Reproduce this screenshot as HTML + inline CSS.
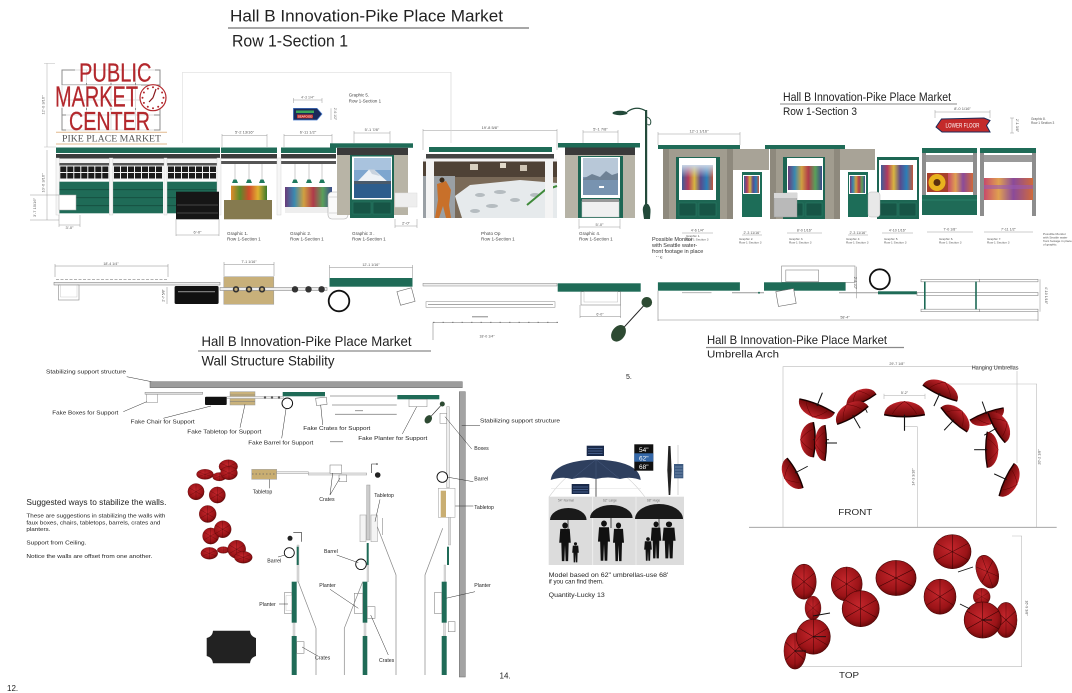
<!DOCTYPE html>
<html><head><meta charset="utf-8"><style>
html,body{margin:0;padding:0;background:#fff;}
svg{display:block;}
text{font-family:"Liberation Sans",sans-serif;fill:#222;}
</style></head><body>
<svg width="1072" height="693" viewBox="0 0 1072 693" xmlns="http://www.w3.org/2000/svg">
<defs>
 <radialGradient id="ur" cx="45%" cy="40%" r="65%">
  <stop offset="0" stop-color="#c4262c"/>
  <stop offset="0.7" stop-color="#9a1317"/>
  <stop offset="1" stop-color="#5a0606"/>
 </radialGradient>
 <linearGradient id="ud" x1="0" y1="0" x2="0" y2="1">
  <stop offset="0" stop-color="#c0232a"/>
  <stop offset="1" stop-color="#6a0808"/>
 </linearGradient>
 <linearGradient id="crowd" x1="0" y1="0" x2="1" y2="0">
  <stop offset="0" stop-color="#3d5f9a"/><stop offset="0.2" stop-color="#b23a5e"/>
  <stop offset="0.4" stop-color="#d9b640"/><stop offset="0.6" stop-color="#5a4a8c"/>
  <stop offset="0.8" stop-color="#2b7fb8"/><stop offset="1" stop-color="#c2553a"/>
 </linearGradient>
 <linearGradient id="skyo" x1="0" y1="0" x2="0" y2="1">
  <stop offset="0" stop-color="#c9d6e6"/><stop offset="0.5" stop-color="#c9d6e6" stop-opacity="0"/>
 </linearGradient>
 <linearGradient id="prod" x1="0" y1="0" x2="1" y2="0">
  <stop offset="0" stop-color="#e08a2a"/><stop offset="0.25" stop-color="#5a8a2a"/>
  <stop offset="0.5" stop-color="#d04a2a"/><stop offset="0.75" stop-color="#e0b030"/>
  <stop offset="1" stop-color="#3a7a2a"/>
 </linearGradient>
 <linearGradient id="crowd2" x1="0" y1="0" x2="1" y2="0">
  <stop offset="0" stop-color="#6a3a7a"/><stop offset="0.2" stop-color="#3a8ab0"/>
  <stop offset="0.4" stop-color="#d0a040"/><stop offset="0.6" stop-color="#b03a4a"/>
  <stop offset="0.8" stop-color="#5aa05a"/><stop offset="1" stop-color="#3a4a8a"/>
 </linearGradient>
 <linearGradient id="b7" x1="0" y1="0" x2="1" y2="0">
  <stop offset="0" stop-color="#c84a6a"/><stop offset="0.3" stop-color="#e0a050"/>
  <stop offset="0.6" stop-color="#8a4a9a"/><stop offset="1" stop-color="#d06a3a"/>
 </linearGradient>
 <g id="win">
  <rect width="50" height="14" fill="#f2f2f2"/>
  <path d="M1,1h6v5.5h-6zM8,1h6v5.5h-6zM15,1h6v5.5h-6zM22,1h6v5.5h-6zM29,1h6v5.5h-6zM36,1h6v5.5h-6zM43,1h6v5.5h-6zM1,7.5h6v5.5h-6zM8,7.5h6v5.5h-6zM15,7.5h6v5.5h-6zM22,7.5h6v5.5h-6zM29,7.5h6v5.5h-6zM36,7.5h6v5.5h-6zM43,7.5h6v5.5h-6z" fill="#1c1c1c"/>
 </g>
 <g id="gp">
  <rect width="50" height="31.6" fill="#1f6b57"/>
  <path d="M0,8H50M0,16H50M0,24H50" stroke="#154c3e" stroke-width="0.8"/>
 </g>
 <g id="fu">
  <path d="M-20,0 A20,10 0 0 1 20,0 Q0,3 -20,0 Z" fill="url(#ud)"/>
  <path d="M-20,0 Q0,3 20,0" stroke="#1a0000" stroke-width="1.2" fill="none"/>
  <path d="M0,-10 Q-8,-6 -12,-0.5 M0,-10 Q8,-6 12,-0.5" stroke="#5a0000" stroke-width="0.4" fill="none"/>
  <line x1="0" y1="0" x2="0" y2="12" stroke="#111" stroke-width="1.1"/>
 </g>
 <g id="tu">
  <circle r="17" fill="url(#ur)" stroke="#4a0505" stroke-width="0.6"/>
  <path d="M0,0L0,-17M0,0L14.7,-8.5M0,0L14.7,8.5M0,0L0,17M0,0L-14.7,8.5M0,0L-14.7,-8.5" stroke="#3a0303" stroke-width="0.5"/>
 </g>
 <g id="person">
  <circle cx="0" cy="-17" r="2.6" fill="#111"/>
  <path d="M-4.5,-14 H4.5 L5.5,-2 H3.5 L3,14 H0.6 L0,0 L-0.6,14 H-3 L-3.5,-2 H-5.5 Z" fill="#111"/>
 </g>
</defs>

<!-- ============ HEADER ============ -->
<text x="230" y="21.7" font-size="16.5" textLength="273" lengthAdjust="spacingAndGlyphs">Hall B Innovation-Pike Place Market</text>
<line x1="228" y1="28" x2="529" y2="28" stroke="#8a8a8a" stroke-width="1.5"/>
<text x="232" y="46.5" font-size="17" textLength="116" lengthAdjust="spacingAndGlyphs">Row 1-Section 1</text>

<!-- Logo -->
<g stroke="#8c8c8c" stroke-width="1" fill="none">
 <rect x="62" y="70" width="98" height="60"/>
 <path d="M86.5,70V130M111,70V130M135.5,70V130M62,85H160M62,100H160M62,115H160"/>
</g>
<rect x="75" y="62" width="80" height="21" fill="#fff" opacity="0.7"/>
<rect x="53" y="85" width="88" height="23" fill="#fff" opacity="0.7"/>
<rect x="66" y="110" width="88" height="21" fill="#fff" opacity="0.7"/>
<text x="79" y="81.7" font-size="25.7" textLength="72.5" lengthAdjust="spacingAndGlyphs" style="fill:#b3282d" stroke="#b3282d" stroke-width="0.25">PUBLIC</text>
<text x="55" y="106.7" font-size="29" textLength="83" lengthAdjust="spacingAndGlyphs" style="fill:#b3282d" stroke="#b3282d" stroke-width="0.25">MARKET</text>
<text x="69" y="130" font-size="25.5" textLength="81" lengthAdjust="spacingAndGlyphs" style="fill:#b3282d" stroke="#b3282d" stroke-width="0.25">CENTER</text>
<circle cx="153" cy="97.7" r="13" fill="#fff" stroke="#b3282d" stroke-width="1.2"/>
<g fill="#b3282d">
 <circle cx="153" cy="87.2" r="1"/><circle cx="158.2" cy="88.6" r="1"/><circle cx="162.1" cy="92.5" r="1"/><circle cx="163.5" cy="97.7" r="1"/><circle cx="162.1" cy="102.9" r="1"/><circle cx="158.2" cy="106.8" r="1"/><circle cx="153" cy="108.2" r="1"/><circle cx="147.8" cy="106.8" r="1"/><circle cx="143.9" cy="102.9" r="1"/><circle cx="142.5" cy="97.7" r="1"/><circle cx="143.9" cy="92.5" r="1"/><circle cx="147.8" cy="88.6" r="1"/>
</g>
<path d="M153,97.7L149,102M153,97.7L156,89" stroke="#8a1a1e" stroke-width="1.2"/>
<line x1="56" y1="132.3" x2="167" y2="132.3" stroke="#e2b98e" stroke-width="1"/>
<line x1="56" y1="144" x2="167" y2="144" stroke="#e2b98e" stroke-width="1"/>
<text x="62" y="141.7" font-size="9.5" textLength="99" lengthAdjust="spacingAndGlyphs" style="font-family:'Liberation Serif',serif;fill:#555">PIKE PLACE MARKET</text>
<line x1="47" y1="63.3" x2="47" y2="147" stroke="#bbb" stroke-width="0.6"/>
<path d="M44,63.3H55M44,147H56" stroke="#bbb" stroke-width="0.5"/>
<text transform="translate(44.5,105) rotate(-90)" font-size="4" text-anchor="middle" style="fill:#666">12'-0 3/16"</text>
<path d="M182.5,143V72.3H451V143" stroke="#ddd" stroke-width="0.6" fill="none"/>

<!-- Seafood sign -->
<path d="M293.4,100H322M293.4,98V103M322,98V103" stroke="#999" stroke-width="0.5"/>
<text x="307.7" y="98.5" font-size="3.6" text-anchor="middle" style="fill:#666">4'-3 1/4"</text>
<path d="M293.4,108.3H317L322,114L317,120H293.4Z" fill="#1b2a5a" stroke="#4a7fd0" stroke-width="0.7"/>
<rect x="296" y="110.5" width="18" height="2.5" fill="#3aa55a"/>
<rect x="297" y="114.5" width="16" height="3.8" fill="#c0302a"/>
<text x="305" y="117.6" font-size="3" text-anchor="middle" style="fill:#fff">SEAFOOD</text>
<line x1="331" y1="108.3" x2="331" y2="120" stroke="#999" stroke-width="0.5"/>
<text transform="translate(334,114) rotate(90)" font-size="3.4" text-anchor="middle" style="fill:#666">2'-6 1/2"</text>
<text x="348.8" y="96.5" font-size="4.4" style="fill:#444">Graphic 5.</text>
<text x="348.8" y="102.5" font-size="4.4" style="fill:#444">Row 1-Section 1</text>

<!-- ============ STOREFRONT SECTION 1 ============ -->
<path d="M222,135.7H267M222,134V147M267,134V147M284,135.7H332M284,134V147M332,134V147M354,133H390M354,131V143M390,131V143" stroke="#999" stroke-width="0.5" fill="none"/>
<text x="244.5" y="133.6" text-anchor="middle" font-size="4" style="fill:#555">5'-2 13/16"</text>
<text x="308" y="133.6" text-anchor="middle" font-size="4" style="fill:#555">6'-11 1/2"</text>
<text x="372" y="131" text-anchor="middle" font-size="4" style="fill:#555">5'-1 7/8"</text>
<rect x="56" y="147.5" width="164" height="5.5" fill="#1f6b57"/>
<rect x="221" y="147.5" width="56" height="5.5" fill="#1f6b57"/>
<rect x="281" y="147.5" width="55" height="5.5" fill="#1f6b57"/>
<rect x="56" y="154" width="164" height="4.5" fill="#3c3c3c"/>
<rect x="221" y="154" width="56" height="4.5" fill="#3c3c3c"/>
<rect x="281" y="154" width="55" height="4.5" fill="#3c3c3c"/>
<rect x="56" y="158.5" width="164" height="4.5" fill="#f4f4f4"/>
<rect x="56" y="163" width="164" height="2.5" fill="#555"/>
<rect x="221" y="161" width="56" height="3" fill="#555"/>
<rect x="281" y="161" width="55" height="3" fill="#555"/>
<use href="#win" x="59.3" y="165.5"/>
<use href="#win" x="113" y="165.5"/>
<use href="#win" x="167" y="165.5"/>
<use href="#gp" x="59.3" y="181.7"/>
<use href="#gp" x="113" y="181.7"/>
<use href="#gp" x="167" y="181.7"/>
<g fill="#f6f6f6" stroke="#ccc" stroke-width="0.4">
 <rect x="56" y="158" width="3.3" height="57"/>
 <rect x="109.3" y="158" width="3.6" height="57"/>
 <rect x="164" y="158" width="3" height="57"/>
 <rect x="217" y="158" width="4" height="57"/>
 <rect x="277" y="158" width="4" height="57"/>
</g>
<rect x="59" y="195" width="17" height="15" fill="#fff" stroke="#aaa" stroke-width="0.5"/>
<rect x="176" y="191.7" width="43" height="27.6" fill="#161616"/>
<path d="M177,205H218M177,213H218" stroke="#555" stroke-width="0.8"/>
<!-- produce -->
<g stroke="#555" stroke-width="0.3"><path d="M235,164V180M249,164V180M262,164V180M295,164V180M309,164V180M322,164V180"/></g>
<g fill="#1f7a5e">
 <path d="M232,183L233.5,179.5H236.5L238,183Z"/><path d="M246,183L247.5,179.5H250.5L252,183Z"/><path d="M259,183L260.5,179.5H263.5L265,183Z"/>
 <path d="M292,183L293.5,179.5H296.5L298,183Z"/><path d="M306,183L307.5,179.5H310.5L312,183Z"/><path d="M319,183L320.5,179.5H323.5L325,183Z"/>
</g>
<rect x="231" y="185.7" width="36" height="14.3" fill="url(#prod)"/>
<rect x="224" y="200" width="48" height="19.3" fill="#857a4f"/>
<rect x="285" y="187" width="47" height="20" fill="url(#crowd2)"/>
<rect x="285" y="207" width="47" height="6" fill="#eee"/>
<rect x="328" y="192" width="20" height="27" rx="4" fill="#fafafa" stroke="#aaa" stroke-width="0.6"/>
<path d="M329,197H347M329,213H347" stroke="#bbb" stroke-width="0.5"/>
<!-- Graphic 3 store -->
<rect x="330" y="143.3" width="83" height="4.5" fill="#1f6b57"/>
<rect x="337" y="147.8" width="71" height="7.2" fill="#3a3a3a"/>
<rect x="337" y="155" width="71" height="60" fill="#b8b4a6"/>
<rect x="350" y="155" width="44" height="63" fill="#1d6653"/>
<rect x="352" y="156.5" width="40" height="43" fill="#fff"/>
<rect x="354" y="158" width="37" height="40" fill="#7ea6cf"/>
<rect x="354" y="158" width="37" height="12" fill="#a9c3de"/>
<path d="M356,183L369,169.5H374L389,183Z" fill="#eef2f6"/>
<path d="M369,169.5L374,169.5L380,176L372,174Z" fill="#c9d3de"/>
<rect x="354" y="181" width="37" height="3" fill="#4a5a6a"/>
<rect x="354" y="184" width="37" height="14" fill="#2d5d8c"/>
<rect x="353" y="202" width="18" height="12" fill="#175546" stroke="#2a7a64" stroke-width="0.6"/>
<rect x="373" y="202" width="18" height="12" fill="#175546" stroke="#2a7a64" stroke-width="0.6"/>
<rect x="395" y="193" width="22" height="14" fill="#eee" stroke="#ddd" stroke-width="0.5"/>
<!-- dims below -->
<g stroke="#999" stroke-width="0.5" fill="none">
 <path d="M59,225H80M59,215V227M80,215V227M176,235H219M176,219V236M219,219V236M395,226H417M395,219V228M417,219V228"/>
 <path d="M47,150V220M30,195H59M30,220H59"/>
</g>
<text x="69.5" y="229" text-anchor="middle" font-size="4" style="fill:#555">3'-0"</text>
<text x="197.5" y="233.5" text-anchor="middle" font-size="4" style="fill:#555">6'-0"</text>
<text x="406" y="224.5" text-anchor="middle" font-size="4" style="fill:#555">2'-0"</text>
<text transform="translate(44.5,183) rotate(-90)" font-size="4" text-anchor="middle" style="fill:#666">10'-6 3/16"</text>
<text transform="translate(36,207.5) rotate(-90)" font-size="4" text-anchor="middle" style="fill:#666">3'-7 15/16"</text>
<text x="227" y="235" font-size="4.6" style="fill:#444">Graphic 1.</text><text x="227" y="240.5" font-size="4.6" style="fill:#444">Row 1-Section 1</text>
<text x="290" y="235" font-size="4.6" style="fill:#444">Graphic 2.</text><text x="290" y="240.5" font-size="4.6" style="fill:#444">Row 1-Section 1</text>
<text x="352" y="235" font-size="4.6" style="fill:#444">Graphic 3 .</text><text x="352" y="240.5" font-size="4.6" style="fill:#444">Row 1-Section 1</text>
<text x="481" y="235" font-size="4.6" style="fill:#444">Photo Op</text><text x="481" y="240.5" font-size="4.6" style="fill:#444">Row 1-Section 1</text>
<text x="579" y="235" font-size="4.6" style="fill:#444">Graphic 4.</text><text x="579" y="240.5" font-size="4.6" style="fill:#444">Row 1-Section 1</text>

<!-- Photo Op -->
<path d="M423,130.7H557M423,129V150M557,129V150" stroke="#999" stroke-width="0.5" fill="none"/>
<text x="490" y="129" text-anchor="middle" font-size="4" style="fill:#555">19'-8 5/8"</text>
<rect x="429" y="147" width="123" height="5" fill="#1f6b57"/>
<rect x="426" y="154" width="128" height="4.5" fill="#444"/>
<rect x="423" y="160" width="134" height="58" fill="#7a6a58"/>
<rect x="423" y="160" width="134" height="17" fill="#4f4236"/>
<rect x="470" y="164" width="8" height="6" fill="#d8d0c0"/><rect x="500" y="163" width="6" height="5" fill="#e0d8c8"/><rect x="520" y="165" width="7" height="6" fill="#cfc5b5"/>
<rect x="423" y="176" width="32" height="42" fill="#9aa0a5"/>
<path d="M455,196L470,185L520,180L557,183V218H462Z" fill="#e6eaec"/>
<g fill="#b5bcc0"><ellipse cx="480" cy="195" rx="5" ry="2"/><ellipse cx="500" cy="192" rx="6" ry="2"/><ellipse cx="515" cy="200" rx="5" ry="2"/><ellipse cx="492" cy="206" rx="6" ry="2"/><ellipse cx="535" cy="195" rx="5" ry="2"/><ellipse cx="475" cy="211" rx="5" ry="2"/></g>
<path d="M527,205L545,190L557,186" stroke="#3f8a3a" stroke-width="2" fill="none"/>
<path d="M437,184L446,181L451,190L449,205L451,218H446L443,206L439,218H435L438,200Z" fill="#c8702a"/>
<circle cx="442" cy="180" r="2.5" fill="#3a2a1a"/>
<rect x="423" y="158.5" width="134" height="3" fill="#f4f4f4"/>
<rect x="426" y="159" width="8" height="59" fill="#f4f4f4"/>
<rect x="545" y="159" width="8" height="59" fill="#f4f4f4"/>
<path d="M451,72V143" stroke="#ddd" stroke-width="0.6"/>

<!-- Graphic 4 booth -->
<path d="M583,132H618M583,130V143M618,130V143M579,227H620M579,219V229M620,219V229" stroke="#999" stroke-width="0.5" fill="none"/>
<text x="600.5" y="130.5" text-anchor="middle" font-size="4" style="fill:#555">5'-1 7/8"</text>
<text x="599.5" y="226" text-anchor="middle" font-size="4" style="fill:#555">5'-0"</text>
<rect x="558" y="143" width="82" height="4.5" fill="#1f6b57"/>
<rect x="565" y="147.5" width="70" height="7.5" fill="#3a3a3a"/>
<rect x="565" y="155" width="70" height="63" fill="#b6b3a6"/>
<rect x="578" y="156" width="45" height="62" fill="#1d6653"/>
<rect x="581" y="157" width="39" height="41" fill="#fff"/>
<rect x="583" y="158" width="35" height="37" fill="#7893b0"/>
<rect x="583" y="158" width="35" height="19" fill="#b8c8d8"/>
<path d="M583,179L592,174L600,177L606,171L612,175L618,173V180H583Z" fill="#6f8295"/>
<rect x="599" y="186" width="5" height="2" fill="#fff"/>
<rect x="582" y="201" width="37" height="16" fill="#f0f0f0" stroke="#ccc" stroke-width="0.5"/>
<rect x="582" y="199" width="37" height="3" fill="#999"/>
<!-- Lamp post -->
<g fill="#234a3a" stroke="#234a3a">
 <rect x="645" y="110" width="2.2" height="97" stroke="none"/>
 <path d="M646,111Q636,105 627,112" fill="none" stroke-width="1.2"/>
 <ellipse cx="620" cy="113" rx="7.5" ry="2.2" stroke="none"/>
 <path d="M647,117Q652,119 650.5,124Q649,126 647.5,124" fill="none" stroke-width="0.9"/>
 <path d="M644,219L643,212Q642,207 645,204H648Q651,207 650.5,212L650,219Z" stroke="none"/>
</g>

<!-- ============ SECTION 3 ============ -->
<text x="783" y="101" font-size="12.3" textLength="168" lengthAdjust="spacingAndGlyphs">Hall B Innovation-Pike Place Market</text>
<line x1="780" y1="104" x2="957" y2="104" stroke="#8a8a8a" stroke-width="1"/>
<text x="783" y="115" font-size="11" textLength="74" lengthAdjust="spacingAndGlyphs">Row 1-Section 3</text>
<path d="M935,112H990M935,110V118M990,110V118M1010,118H1014M1010,133H1014M1012,118V133" stroke="#999" stroke-width="0.5" fill="none"/>
<text x="962.5" y="110" text-anchor="middle" font-size="4" style="fill:#555">8'-0 1/16"</text>
<text transform="translate(1016,125.5) rotate(90)" font-size="3.6" text-anchor="middle" style="fill:#555">2'-1 3/8"</text>
<path d="M936,127L941.5,119L984,118L990,120.5L986.5,125.5L990,132H942Z" fill="#c42a2a" stroke="#1b2a5a" stroke-width="1"/>
<text x="962.5" y="127.6" text-anchor="middle" font-size="6" textLength="34" lengthAdjust="spacingAndGlyphs" style="fill:#fff">LOWER FLOOR</text>
<text x="1031" y="120" font-size="3.2" style="fill:#555">Graphic 8.</text>
<text x="1031" y="124" font-size="3.2" style="fill:#555">Row 1 Section 3</text>

<path d="M658,134H740M658,132V145M740,132V145" stroke="#999" stroke-width="0.5" fill="none"/>
<text x="699" y="132.5" text-anchor="middle" font-size="4" style="fill:#555">12'-1 1/16"</text>
<rect x="733" y="149" width="36" height="21" fill="#a8a397"/>
<rect x="840" y="149" width="35" height="21" fill="#a8a397"/>
<!-- booth 1 -->
<rect x="658" y="145" width="82" height="4" fill="#1f6b57"/>
<rect x="663" y="149" width="70" height="70" fill="#a19c8f"/>
<rect x="663" y="149" width="6" height="70" fill="#8e897d"/><rect x="727" y="149" width="6" height="70" fill="#8e897d"/>
<rect x="676" y="157" width="44" height="62" fill="#1d6653"/>
<rect x="679" y="158" width="37" height="42" fill="#fff"/>
<rect x="682" y="165" width="31" height="25" fill="url(#crowd)"/>
<rect x="682" y="165" width="31" height="25" fill="url(#skyo)"/>
<rect x="679" y="203" width="17" height="13" fill="#175546" stroke="#2a7a64" stroke-width="0.6"/>
<rect x="699" y="203" width="17" height="13" fill="#175546" stroke="#2a7a64" stroke-width="0.6"/>
<!-- door 2 -->
<rect x="742" y="172" width="20" height="45" fill="#1d6d58"/>
<rect x="743" y="175" width="17" height="19" fill="#fff"/>
<rect x="744" y="176" width="15" height="17" fill="url(#crowd)"/>
<!-- booth 3 -->
<rect x="765" y="145" width="80" height="4" fill="#1f6b57"/>
<rect x="770" y="149" width="70" height="70" fill="#a19c8f"/>
<rect x="770" y="149" width="6" height="70" fill="#8e897d"/><rect x="834" y="149" width="6" height="70" fill="#8e897d"/>
<rect x="783" y="157" width="42" height="62" fill="#1d6653"/>
<rect x="787" y="158" width="36" height="42" fill="#fff"/>
<rect x="788" y="166" width="34" height="24" fill="url(#crowd2)"/>
<rect x="787" y="203" width="16" height="13" fill="#175546" stroke="#2a7a64" stroke-width="0.6"/>
<rect x="806" y="203" width="16" height="13" fill="#175546" stroke="#2a7a64" stroke-width="0.6"/>
<rect x="774" y="193" width="23" height="24" fill="#b9b9b9" stroke="#999" stroke-width="0.4"/>
<rect x="774" y="193" width="23" height="5" fill="#d8d8d8"/>
<!-- door 4 -->
<rect x="848" y="172" width="20" height="45" fill="#1d6d58"/>
<rect x="849" y="175" width="17" height="19" fill="#fff"/>
<rect x="850" y="176" width="15" height="17" fill="url(#crowd2)"/>
<!-- booth 5 -->
<rect x="877" y="157" width="42" height="62" fill="#1d6653"/>
<rect x="879" y="160" width="38" height="40" fill="#fff"/>
<rect x="881" y="165" width="32" height="25" fill="url(#crowd)"/>
<rect x="880" y="203" width="17" height="13" fill="#175546" stroke="#2a7a64" stroke-width="0.6"/>
<rect x="899" y="203" width="17" height="13" fill="#175546" stroke="#2a7a64" stroke-width="0.6"/>
<rect x="868" y="192" width="12" height="25" rx="3" fill="#e8e8e8" stroke="#aaa" stroke-width="0.4"/>
<!-- booth 6 -->
<rect x="922" y="148" width="55" height="5" fill="#1f6b57"/>
<rect x="922" y="155" width="55" height="7" fill="#9a9a9a"/>
<rect x="922" y="153" width="4" height="62" fill="#8d8d8d"/><rect x="973" y="153" width="4" height="62" fill="#8d8d8d"/>
<rect x="927" y="173" width="46" height="19" fill="#a8402a"/>
<rect x="948" y="173" width="25" height="19" fill="url(#b7)"/>
<circle cx="937" cy="182.5" r="8.5" fill="#e8b21e"/>
<circle cx="937" cy="182.5" r="3.5" fill="#5a3010"/>
<rect x="922" y="195" width="55" height="20" fill="#1f6b57"/>
<line x1="922" y1="200" x2="977" y2="200" stroke="#2c8a70" stroke-width="0.8"/>
<!-- booth 7 -->
<rect x="980" y="148" width="56" height="5" fill="#1f6b57"/>
<rect x="980" y="155" width="56" height="7" fill="#9a9a9a"/>
<rect x="980" y="153" width="4" height="63" fill="#8d8d8d"/><rect x="1032" y="153" width="4" height="63" fill="#8d8d8d"/>
<rect x="984" y="178" width="49" height="22" fill="url(#b7)"/>
<rect x="984" y="185" width="49" height="4" fill="#9a5ab0" opacity="0.6"/>
<!-- section 3 dims and labels -->
<path d="M682,233H713M742,235H762M787,233H822M848,235H868M882,233H913M927,232H973M984,232H1033" stroke="#999" stroke-width="0.5" fill="none"/>
<text x="697.5" y="231.5" font-size="3.6" text-anchor="middle" style="fill:#555">4'-6 1/4"</text>
<text x="752" y="234" font-size="3.6" text-anchor="middle" style="fill:#555">2'-3 11/16"</text>
<text x="804.5" y="231.5" font-size="3.6" text-anchor="middle" style="fill:#555">8'-0 1/16"</text>
<text x="858" y="234" font-size="3.6" text-anchor="middle" style="fill:#555">2'-3 11/16"</text>
<text x="897.5" y="231.5" font-size="3.6" text-anchor="middle" style="fill:#555">4'-10 1/16"</text>
<text x="950" y="230.5" font-size="3.6" text-anchor="middle" style="fill:#555">7'-0 1/8"</text>
<text x="1008.5" y="230.5" font-size="3.6" text-anchor="middle" style="fill:#555">7'-11 1/2"</text>
<text x="686" y="237" font-size="3.1" style="fill:#555">Graphic 1.</text><text x="686" y="240.5" font-size="3.1" style="fill:#555">Row 1 Section 3</text>
<text x="739" y="240" font-size="3.1" style="fill:#555">Graphic 2.</text><text x="739" y="243.5" font-size="3.1" style="fill:#555">Row 1 Section 3</text>
<text x="789" y="240" font-size="3.1" style="fill:#555">Graphic 3.</text><text x="789" y="243.5" font-size="3.1" style="fill:#555">Row 1 Section 3</text>
<text x="846" y="240" font-size="3.1" style="fill:#555">Graphic 4</text><text x="846" y="243.5" font-size="3.1" style="fill:#555">Row 1 Section 3</text>
<text x="884" y="240" font-size="3.1" style="fill:#555">Graphic 5.</text><text x="884" y="243.5" font-size="3.1" style="fill:#555">Row 1 Section 3</text>
<text x="939" y="240" font-size="3.1" style="fill:#555">Graphic 6.</text><text x="939" y="243.5" font-size="3.1" style="fill:#555">Row 1 Section 3</text>
<text x="987" y="240" font-size="3.1" style="fill:#555">Graphic 7.</text><text x="987" y="243.5" font-size="3.1" style="fill:#555">Row 1 Section 3</text>
<text x="1043" y="235" font-size="3.1" style="fill:#555">Possible Monitor</text><text x="1043" y="238.5" font-size="3.1" style="fill:#555">with Seattle water</text><text x="1043" y="242" font-size="3.1" style="fill:#555">front footage in place</text><text x="1043" y="245.5" font-size="3.1" style="fill:#555">of graphic</text>
<text x="652" y="241" font-size="5.5" style="fill:#333">Possible Monitor</text>
<text x="652" y="247" font-size="5.5" style="fill:#333">with Seattle water-</text>
<text x="652" y="253" font-size="5.5" style="fill:#333">front footage in place</text>
<text x="656" y="258.5" font-size="3.5" style="fill:#333">"         ' ic</text>

<!-- ============ PLAN STRIP ============ -->
<g stroke="#888" stroke-width="0.5" fill="none">
 <path d="M55,266H168M55,264V277M168,264V277"/>
 <path d="M224,264.3H274M224,262V276M274,262V276"/>
 <path d="M329.5,267.3H412.5M329.5,265V278M412.5,265V278"/>
</g>
<text x="111" y="265" text-anchor="middle" font-size="3.6" style="fill:#555">18'-4 1/4"</text>
<text x="249" y="263" text-anchor="middle" font-size="3.6" style="fill:#555">7'-1 1/16"</text>
<text x="371" y="266" text-anchor="middle" font-size="3.6" style="fill:#555">12'-1 1/16"</text>
<line x1="56" y1="279.5" x2="168" y2="279.5" stroke="#999" stroke-width="0.8" stroke-dasharray="3,1.5"/>
<rect x="54" y="282.3" width="166" height="2.7" fill="#eee" stroke="#777" stroke-width="0.5"/>
<rect x="58.5" y="285" width="20.5" height="15" fill="#fff" stroke="#888" stroke-width="0.6"/>
<rect x="60.5" y="285" width="16.5" height="12" fill="none" stroke="#bbb" stroke-width="0.4"/>
<rect x="174.6" y="286" width="44" height="18" rx="1.5" fill="#111"/>
<line x1="178" y1="291.7" x2="215" y2="291.7" stroke="#888" stroke-width="1.2"/>
<line x1="167" y1="287" x2="167" y2="304" stroke="#888" stroke-width="0.5"/>
<text transform="translate(164.5,295.5) rotate(-90)" font-size="3.4" text-anchor="middle" style="fill:#555">2'-7 5/8"</text>
<rect x="223.8" y="276.7" width="50" height="27.6" fill="#c8b07a" stroke="#999" stroke-width="0.5"/>
<rect x="220" y="287.5" width="107" height="3" fill="#eee" stroke="#777" stroke-width="0.5"/>
<g fill="#333"><circle cx="236" cy="289.3" r="3.2"/><circle cx="249" cy="289.3" r="3.2"/><circle cx="262" cy="289.3" r="3.2"/><circle cx="295" cy="289.3" r="3.2"/><circle cx="308.5" cy="289.3" r="3.2"/><circle cx="321.6" cy="289.3" r="3.2"/></g>
<g fill="#c8b07a"><circle cx="236" cy="289.3" r="1.6"/><circle cx="249" cy="289.3" r="1.6"/><circle cx="262" cy="289.3" r="1.6"/></g>
<rect x="329.5" y="278" width="83" height="8.7" fill="#1f6b57"/>
<circle cx="339" cy="301" r="10.3" fill="#fff" stroke="#111" stroke-width="1.8"/>
<rect x="398.5" y="289.5" width="15" height="14" fill="#fff" stroke="#666" stroke-width="0.6" transform="rotate(-15 406 296.5)"/>
<rect x="423" y="283.3" width="134" height="2.7" fill="#eee" stroke="#888" stroke-width="0.5"/>
<rect x="426" y="301.7" width="129" height="5.6" fill="#fff" stroke="#888" stroke-width="0.5"/>
<line x1="428" y1="304.5" x2="553" y2="304.5" stroke="#888" stroke-width="0.8"/>
<rect x="472" y="316" width="16" height="1.4" fill="#aaa"/>
<path d="M433,322.3H558M433,322.3V340" stroke="#888" stroke-width="0.6" fill="none"/>
<path d="M433,322.3H558" stroke="#666" stroke-width="0.8" stroke-dasharray="1.5,8"/>
<text x="487" y="337.3" text-anchor="middle" font-size="3.6" style="fill:#555">18'-0 1/4"</text>
<rect x="557.7" y="283.3" width="83" height="8.4" fill="#1f6b57"/>
<rect x="581" y="291.7" width="39.6" height="13.3" fill="#fff" stroke="#888" stroke-width="0.6"/>
<rect x="584" y="291.7" width="33.6" height="10.3" fill="none" stroke="#bbb" stroke-width="0.5"/>
<path d="M580,316.7H620.6M580,305V318M620.6,305V318" stroke="#888" stroke-width="0.5" fill="none"/>
<text x="600" y="315.7" text-anchor="middle" font-size="3.6" style="fill:#555">6'-0"</text>
<line x1="646.8" y1="302.3" x2="618.5" y2="333.3" stroke="#222" stroke-width="1"/>
<circle cx="646.8" cy="302.3" r="5.3" fill="#2d4a32"/>
<ellipse cx="618.5" cy="333.3" rx="6.5" ry="9" transform="rotate(35 618.5 333.3)" fill="#2d4a32"/>
<rect x="657.9" y="282.3" width="82" height="8.4" fill="#1f6b57"/>
<line x1="682" y1="292.7" x2="711.5" y2="292.7" stroke="#aaa" stroke-width="0.8"/>
<line x1="732" y1="292.7" x2="764" y2="292.7" stroke="#999" stroke-width="1"/>
<circle cx="759" cy="292.7" r="1" fill="#1f6b57"/>
<rect x="781.6" y="266" width="73.4" height="16.3" fill="#fff" stroke="#888" stroke-width="0.6"/>
<rect x="785.8" y="270" width="32.8" height="11.7" fill="none" stroke="#888" stroke-width="0.6"/>
<rect x="764" y="282.3" width="81.6" height="8.4" fill="#1f6b57"/>
<rect x="777" y="290" width="18" height="15" fill="#fff" stroke="#666" stroke-width="0.6" transform="rotate(-10 786 297.5)"/>
<line x1="856.7" y1="266.7" x2="856.7" y2="298.3" stroke="#888" stroke-width="0.5"/>
<text transform="translate(854,283) rotate(90)" font-size="3.4" text-anchor="middle" style="fill:#555">2'-8 1/2"</text>
<line x1="839" y1="292.7" x2="878" y2="292.7" stroke="#999" stroke-width="1"/>
<circle cx="879.8" cy="279.3" r="10" fill="#fff" stroke="#111" stroke-width="1.8"/>
<rect x="878" y="291.3" width="39" height="3" fill="#1f6b57"/>
<g fill="#fff" stroke="#888" stroke-width="0.6">
 <rect x="921" y="279.3" width="58.4" height="2.5"/><rect x="921" y="309.2" width="58.4" height="2.5"/>
 <rect x="979.4" y="279.3" width="58.6" height="2.5"/><rect x="979.4" y="309.2" width="58.6" height="2.5"/>
 <rect x="917" y="292.5" width="121" height="3"/>
</g>
<rect x="924" y="281.5" width="1.6" height="28" fill="#1f6b57"/>
<rect x="975.2" y="281.5" width="1.6" height="28" fill="#1f6b57"/>
<line x1="1040" y1="279.3" x2="1040" y2="311.7" stroke="#888" stroke-width="0.5"/>
<text transform="translate(1045,295.5) rotate(90)" font-size="3.6" text-anchor="middle" style="fill:#555">4'-10 1/16"</text>
<path d="M658,320H1038M658,290.7V321M1038,312V321" stroke="#888" stroke-width="0.6" fill="none"/>
<text x="845" y="318.6" text-anchor="middle" font-size="3.6" style="fill:#555">58'-4"</text>

<!-- ============ WALL STRUCTURE ============ -->
<text x="201.5" y="346" font-size="13.8" textLength="210" lengthAdjust="spacingAndGlyphs">Hall B Innovation-Pike Place Market</text>
<line x1="198" y1="351" x2="431" y2="351" stroke="#8a8a8a" stroke-width="1.2"/>
<text x="201.5" y="365.5" font-size="13.8" textLength="133" lengthAdjust="spacingAndGlyphs">Wall Structure Stability</text>

<text x="46" y="373.5" font-size="5.2" textLength="80" lengthAdjust="spacingAndGlyphs">Stabilizing support structure</text>
<line x1="126.7" y1="376.7" x2="168" y2="385" stroke="#333" stroke-width="0.5"/>
<rect x="150" y="381.7" width="312.3" height="6" fill="#9c9c9c" stroke="#666" stroke-width="0.5"/>
<rect x="459.3" y="391.7" width="6" height="285.3" fill="#a3a3a3" stroke="#666" stroke-width="0.5"/>
<rect x="145" y="392.3" width="57.7" height="2" fill="#ddd" stroke="#777" stroke-width="0.4"/>
<rect x="146.7" y="394.3" width="10.6" height="8.4" fill="#fff" stroke="#888" stroke-width="0.5"/>
<rect x="205" y="396.7" width="21.7" height="8.3" rx="1" fill="#111"/>
<rect x="230" y="391.7" width="25" height="13.3" fill="#c9b27c" stroke="#999" stroke-width="0.5"/>
<path d="M230,395H255M230,401.5H255" stroke="#777" stroke-width="0.6"/>
<rect x="226.7" y="396.5" width="56.6" height="2" fill="#eee" stroke="#888" stroke-width="0.4"/>
<g fill="#555"><circle cx="265" cy="397.5" r="1.2"/><circle cx="272" cy="397.5" r="1.2"/><circle cx="279" cy="397.5" r="1.2"/></g>
<circle cx="287.3" cy="403.3" r="5.3" fill="#fff" stroke="#111" stroke-width="1"/>
<rect x="282.7" y="392" width="42.3" height="4.3" fill="#1f6b57"/>
<rect x="316" y="397.7" width="10.7" height="7.3" fill="#fff" stroke="#666" stroke-width="0.5" transform="rotate(-6 321 401)"/>
<path d="M330,396H396.7M332,405H396.7M355,410.7H363M335,414.3H396.7M330,441.7H343" stroke="#888" stroke-width="0.8"/>
<rect x="397.3" y="395" width="42" height="4.3" fill="#1f6b57"/>
<rect x="409" y="399.3" width="18" height="7.4" fill="#fff" stroke="#888" stroke-width="0.5"/>
<line x1="442.3" y1="404" x2="428.3" y2="419.3" stroke="#222" stroke-width="0.6"/>
<circle cx="442.3" cy="404" r="2.5" fill="#2d4a32"/>
<ellipse cx="428.3" cy="419.3" rx="3.3" ry="4.5" transform="rotate(35 428.3 419.3)" fill="#2d4a32"/>
<rect x="446.7" y="406.7" width="2.6" height="81" fill="#eee" stroke="#888" stroke-width="0.4"/>
<rect x="440" y="413.3" width="6.7" height="10" fill="#fff" stroke="#888" stroke-width="0.5"/>
<text x="52.3" y="414.5" font-size="5.2" textLength="66" lengthAdjust="spacingAndGlyphs">Fake Boxes for Support</text>
<text x="130.7" y="423.5" font-size="5.2" textLength="64" lengthAdjust="spacingAndGlyphs">Fake Chair for Support</text>
<text x="187.3" y="433.5" font-size="5.2" textLength="74" lengthAdjust="spacingAndGlyphs">Fake Tabletop for Support</text>
<text x="248.3" y="444.5" font-size="5.2" textLength="65" lengthAdjust="spacingAndGlyphs">Fake Barrel for Support</text>
<text x="303.3" y="430" font-size="5.2" textLength="67" lengthAdjust="spacingAndGlyphs">Fake Crates for Support</text>
<text x="358.3" y="440" font-size="5.2" textLength="69" lengthAdjust="spacingAndGlyphs">Fake Planter for Support</text>
<text x="480" y="422.5" font-size="5.2" textLength="80" lengthAdjust="spacingAndGlyphs">Stabilizing support structure</text>
<text x="474.3" y="450" font-size="5.2">Boxes</text>
<text x="474.3" y="480.5" font-size="5.2">Barrel</text>
<text x="474.3" y="509" font-size="5.2">Tabletop</text>
<text x="474.3" y="587" font-size="5.2">Planter</text>
<g stroke="#333" stroke-width="0.5" fill="none">
 <path d="M123.3,411.7L146.7,401.7M163.3,418.3L211,406M240,427.7L245,404.3M281.7,438.3L286,409M322.7,425L320.7,405M402.3,434L416.7,406.7"/>
 <path d="M461.7,425.7H480M445,416.7L471.7,449M446.7,477L473.3,481.7M445,506H473.3M438.3,600L475,591.7"/>
</g>

<!-- small umbrella cluster -->
<g>
 <use href="#tu" transform="translate(205,474.3) scale(0.5,0.3)"/>
 <use href="#tu" transform="translate(219.3,476.7) scale(0.4,0.25)"/>
 <use href="#tu" transform="translate(228.3,466.5) scale(0.55,0.4)"/>
 <use href="#tu" transform="translate(229,473) scale(0.5,0.4)"/>
 <use href="#tu" transform="translate(196,491.7) scale(0.48)"/>
 <use href="#tu" transform="translate(217.3,495) scale(0.48)"/>
 <use href="#tu" transform="translate(207.7,514) scale(0.5)"/>
 <use href="#tu" transform="translate(210.7,536) scale(0.48)"/>
 <use href="#tu" transform="translate(222.7,529.3) scale(0.5)"/>
 <use href="#tu" transform="translate(209.3,553.3) scale(0.5,0.35)"/>
 <use href="#tu" transform="translate(223.3,550) scale(0.36,0.2)"/>
 <use href="#tu" transform="translate(236.7,549.3) scale(0.53)"/>
 <use href="#tu" transform="translate(243.3,557.3) scale(0.53,0.35)"/>
</g>
<!-- horizontal tabletop row -->
<rect x="251.7" y="469.3" width="25" height="10" fill="#c9ae72" stroke="#aaa" stroke-width="0.6"/>
<path d="M252,474H276" stroke="#666" stroke-width="0.7" stroke-dasharray="1.5,2"/>
<rect x="276.7" y="471.7" width="31.6" height="2" fill="#eee" stroke="#888" stroke-width="0.4"/>
<rect x="308.3" y="473" width="58.4" height="2" fill="#eee" stroke="#888" stroke-width="0.4"/>
<rect x="330" y="465" width="11.7" height="8.3" fill="#fff" stroke="#777" stroke-width="0.5"/>
<rect x="339" y="475" width="7.7" height="6.7" fill="#fff" stroke="#777" stroke-width="0.5"/>
<circle cx="377.7" cy="475" r="2.8" fill="#222"/>
<path d="M371.7,473V464H377" stroke="#222" stroke-width="0.6" fill="none"/>
<circle cx="377" cy="464" r="0.8" fill="#222"/>
<text x="252.7" y="493.5" font-size="5.2">Tabletop</text>
<text x="319.3" y="501" font-size="5.2">Crates</text>
<path d="M269.3,479.3V488.3M330,495L332.7,473M330,495L340,478" stroke="#333" stroke-width="0.5" fill="none"/>

<!-- Wall A -->
<path d="M293.3,532.7H301.7V541.7" stroke="#222" stroke-width="0.6" fill="none"/>
<circle cx="290" cy="538.3" r="2.5" fill="#222"/>
<rect x="297" y="545" width="2" height="37" fill="#ddd" stroke="#999" stroke-width="0.3"/>
<rect x="296.7" y="546.7" width="2" height="18.3" fill="#1f6b57"/>
<circle cx="289.3" cy="552.7" r="5" fill="#fff" stroke="#111" stroke-width="0.9"/>
<rect x="291.7" y="581.7" width="5" height="41" fill="#1f6b57"/>
<rect x="293" y="622.7" width="2" height="13.3" fill="#ddd" stroke="#999" stroke-width="0.3"/>
<rect x="291.7" y="636" width="5" height="39" fill="#1f6b57"/>
<rect x="284.3" y="592.7" width="7.4" height="20.6" fill="#fff" stroke="#888" stroke-width="0.6"/>
<rect x="286" y="595.5" width="5.7" height="15" fill="none" stroke="#bbb" stroke-width="0.4"/>
<rect x="296.7" y="641.7" width="7.3" height="11.6" fill="#fff" stroke="#888" stroke-width="0.6"/>
<path d="M298.3,581.7L316,628.3V675" stroke="#888" stroke-width="0.7" fill="none"/>
<text x="267.3" y="562.5" font-size="5.2">Barrel</text>
<text x="259.3" y="606" font-size="5.2">Planter</text>
<text x="315" y="659.5" font-size="5.2">Crates</text>
<path d="M278,557L285,555M279,604H288M316,655L302,647" stroke="#333" stroke-width="0.5"/>
<!-- Wall B -->
<rect x="366.7" y="485" width="3.3" height="55" fill="#ccc" stroke="#888" stroke-width="0.4"/>
<rect x="360" y="515" width="6" height="26.7" fill="#f4f4f4" stroke="#aaa" stroke-width="0.6"/>
<rect x="371" y="515" width="6.3" height="26.7" fill="#f4f4f4" stroke="#aaa" stroke-width="0.6"/>
<line x1="382.7" y1="518" x2="382.7" y2="535" stroke="#888" stroke-width="0.6"/>
<rect x="366.7" y="543" width="2" height="22" fill="#1f6b57"/>
<rect x="367" y="565" width="1.6" height="16.7" fill="#ddd" stroke="#999" stroke-width="0.3"/>
<circle cx="361" cy="564.3" r="5.3" fill="#fff" stroke="#111" stroke-width="0.9"/>
<rect x="362.7" y="581.7" width="4.6" height="41" fill="#1f6b57"/>
<rect x="364" y="622.7" width="2" height="13.3" fill="#ddd" stroke="#999" stroke-width="0.3"/>
<rect x="362.7" y="636" width="4.6" height="39" fill="#1f6b57"/>
<rect x="354.3" y="593.3" width="8.4" height="20" fill="#fff" stroke="#888" stroke-width="0.6"/>
<rect x="367.3" y="606.7" width="7.7" height="11.6" fill="#fff" stroke="#888" stroke-width="0.6"/>
<path d="M377.3,526.7L396,575V675M362.7,581.7L344.3,628.3V675" stroke="#888" stroke-width="0.7" fill="none"/>
<text x="374.3" y="497" font-size="5.2">Tabletop</text>
<text x="324" y="553" font-size="5.2">Barrel</text>
<text x="319.3" y="587" font-size="5.2">Planter</text>
<text x="379" y="662" font-size="5.2">Crates</text>
<path d="M380,499.5L375,521.7M336.7,555L358.3,562.7M330,589.3L358.3,608.3M388.3,655L370.7,615" stroke="#333" stroke-width="0.5" fill="none"/>
<!-- Wall C -->
<circle cx="442.3" cy="477" r="5.3" fill="#fff" stroke="#111" stroke-width="0.9"/>
<rect x="438.3" y="488.3" width="16.7" height="29" fill="#fff" stroke="#aaa" stroke-width="0.6"/>
<rect x="440.7" y="490.7" width="5.3" height="26.6" fill="#c9ae72"/>
<rect x="448.3" y="517.3" width="2.4" height="27.7" fill="#ddd" stroke="#999" stroke-width="0.3"/>
<rect x="447" y="546.7" width="2" height="18.3" fill="#1f6b57"/>
<rect x="444" y="565" width="1.6" height="16.7" fill="#ddd" stroke="#999" stroke-width="0.3"/>
<rect x="441.7" y="581.7" width="5" height="41" fill="#1f6b57"/>
<rect x="443.5" y="622.7" width="2" height="13.3" fill="#ddd" stroke="#999" stroke-width="0.3"/>
<rect x="441.7" y="636" width="5" height="39" fill="#1f6b57"/>
<rect x="434.3" y="592.7" width="7.4" height="20.6" fill="#fff" stroke="#888" stroke-width="0.6"/>
<rect x="448.3" y="621.7" width="6.7" height="10" fill="#fff" stroke="#888" stroke-width="0.6"/>
<path d="M442.7,528.3L425,575V675" stroke="#888" stroke-width="0.7" fill="none"/>
<!-- black octagon -->
<path d="M213,630.7H250Q250.5,636.5 256,638V656Q250.5,657.5 250,663.3H213Q212.5,657.5 206.7,656V638Q212.5,636.5 213,630.7Z" fill="#222"/>

<!-- bottom-left text -->
<text x="26.4" y="505" font-size="8.5" textLength="140" lengthAdjust="spacingAndGlyphs">Suggested ways to stabilize the walls.</text>
<text x="26.4" y="517.5" font-size="5.8" textLength="139" lengthAdjust="spacingAndGlyphs">These are suggestions in stabilizing the walls with</text>
<text x="26.4" y="524.3" font-size="5.8" textLength="134" lengthAdjust="spacingAndGlyphs">faux boxes, chairs, tabletops, barrels, crates and</text>
<text x="26.4" y="531" font-size="5.8" textLength="24" lengthAdjust="spacingAndGlyphs">planters.</text>
<text x="26.4" y="544.5" font-size="5.8" textLength="60" lengthAdjust="spacingAndGlyphs">Support from Ceiling.</text>
<text x="26.4" y="558" font-size="5.8" textLength="126" lengthAdjust="spacingAndGlyphs">Notice the walls are offset from one another.</text>
<text x="7" y="691" font-size="8">12.</text>
<text x="499.5" y="678.5" font-size="8">14.</text>
<text x="626" y="379" font-size="7">5.</text>

<!-- ============ UMBRELLA PHOTO ============ -->
<path d="M549,497Q596,432 645,497" stroke="#ccc" stroke-width="0.6" fill="none"/>
<line x1="551" y1="488.5" x2="641" y2="488.5" stroke="#ddd" stroke-width="0.6"/>
<line x1="596" y1="460" x2="596" y2="497" stroke="#333" stroke-width="0.8"/>
<path d="M550.7,480Q553,461 596,459.5Q639,461 640.7,480Q630,476 620,479Q608,476 596,479Q584,476 572,479Q562,476 550.7,480Z" fill="#2e3f5e"/>
<path d="M596,459.5L572,479M596,459.5L620,479M596,459.5V479" stroke="#475b80" stroke-width="0.5"/>
<rect x="586.7" y="445.7" width="17.3" height="10.3" fill="#1a2a4a"/>
<path d="M588,448.5H602.5M588,451H602.5M588,453.5H602.5" stroke="#6a8ac0" stroke-width="0.6"/>
<rect x="571.7" y="484" width="17.6" height="10" fill="#1a2a4a"/>
<path d="M573,487H588M573,489.5H588M573,492H588" stroke="#6a8ac0" stroke-width="0.6"/>
<rect x="634.3" y="444.3" width="19" height="26.4" fill="#111"/>
<rect x="634.3" y="453.3" width="19" height="8.4" fill="#3568a8"/>
<text x="643.8" y="451.8" font-size="6.5" text-anchor="middle" style="fill:#fff">54"</text>
<text x="643.8" y="460.3" font-size="6.5" text-anchor="middle" style="fill:#fff">62"</text>
<text x="643.8" y="469" font-size="6.5" text-anchor="middle" style="fill:#fff">68"</text>
<line x1="678" y1="445" x2="678" y2="495" stroke="#bbb" stroke-width="0.6"/>
<path d="M668.3,446H670.5L671.6,470L670.3,495H668.7L667.3,470Z" fill="#222"/>
<rect x="674" y="464" width="9.3" height="14.3" fill="#3d5a80"/>
<path d="M675,467H682.5M675,470H682.5M675,473H682.5M675,476H682.5" stroke="#9ab0d0" stroke-width="0.5"/>
<rect x="548.7" y="496.7" width="135.3" height="68.3" fill="#dcdcdc"/>
<path d="M592.7,497V565M636,497V565" stroke="#f2f2f2" stroke-width="0.8"/>
<text x="558" y="501.5" font-size="3.2" style="fill:#777">54" Normal</text>
<text x="603" y="501.5" font-size="3.2" style="fill:#777">62" Large</text>
<text x="647" y="501.5" font-size="3.2" style="fill:#777">68" Huge</text>
<path d="M550,520A18.3,12 0 0 1 586.6,520Z" fill="#1a1a1a"/>
<path d="M590,518A21.3,13 0 0 1 632.6,518Z" fill="#1a1a1a"/>
<path d="M635,519A24,15 0 0 1 683,519Z" fill="#1a1a1a"/>
<path d="M568,520V530M611,518V528M659,519V528" stroke="#111" stroke-width="0.7"/>
<use href="#person" transform="translate(565,545) scale(1.05,1.15)"/>
<use href="#person" transform="translate(575.5,554) scale(0.6,0.6)"/>
<use href="#person" transform="translate(604,544) scale(1.1,1.2)"/>
<use href="#person" transform="translate(618.5,545) scale(1,1.15)"/>
<use href="#person" transform="translate(648,551) scale(0.7,0.7)"/>
<use href="#person" transform="translate(656,543) scale(0.95,1.1)"/>
<use href="#person" transform="translate(669,543) scale(1.2,1.1)"/>
<text x="548.7" y="577" font-size="6" textLength="119.6" lengthAdjust="spacingAndGlyphs">Model based on 62" umbrellas-use 68'</text>
<text x="548.7" y="583.5" font-size="6" textLength="55" lengthAdjust="spacingAndGlyphs">if you can find them.</text>
<text x="548.7" y="597" font-size="6" textLength="56" lengthAdjust="spacingAndGlyphs">Quantity-Lucky 13</text>

<!-- ============ UMBRELLA ARCH ============ -->
<text x="707" y="344" font-size="12" textLength="180" lengthAdjust="spacingAndGlyphs">Hall B Innovation-Pike Place Market</text>
<line x1="706" y1="347.5" x2="904" y2="347.5" stroke="#8a8a8a" stroke-width="1.2"/>
<text x="707" y="357.5" font-size="10.5" textLength="72" lengthAdjust="spacingAndGlyphs">Umbrella Arch</text>
<g stroke="#bbb" stroke-width="0.6" fill="none">
 <path d="M783,527V366.7H1016.7"/>
 <path d="M1017,371V463"/>
 <path d="M933,384H1036.7V527"/>
 <path d="M905,426.7H917.3V527"/>
 <path d="M884,395.7H925M884,393.7V399M925,393.7V399"/>
 <path d="M1012,536H1021.7V666.7H800"/>
</g>
<line x1="749" y1="527.3" x2="1056.7" y2="527.3" stroke="#999" stroke-width="0.8"/>
<text x="897" y="365.2" font-size="3.6" text-anchor="middle" style="fill:#555">29'-7 1/8"</text>
<text x="971.7" y="369.5" font-size="5.5">Hanging Umbrellas</text>
<text x="904.5" y="394" font-size="3.6" text-anchor="middle" style="fill:#555">5'-2"</text>
<text transform="translate(1040.5,457) rotate(-90)" font-size="3.6" text-anchor="middle" style="fill:#555">20'-2 1/8"</text>
<text transform="translate(914.5,477) rotate(-90)" font-size="3.6" text-anchor="middle" style="fill:#555">14'-3 3/16"</text>
<text transform="translate(1025.5,608) rotate(90)" font-size="3.6" text-anchor="middle" style="fill:#555">16'-9 3/8"</text>
<!-- front umbrellas -->
<use href="#fu" transform="translate(817,406) rotate(202) scale(0.95,1.2)"/>
<use href="#fu" transform="translate(861.7,400.7) rotate(-25) scale(0.8,1.1)"/>
<use href="#fu" transform="translate(852.7,415.3) rotate(-30) scale(0.9,1.25)"/>
<use href="#fu" transform="translate(940,393) rotate(25) scale(0.95,1.2)"/>
<use href="#fu" transform="translate(954,419.7) rotate(43) scale(0.9,1.2)"/>
<use href="#fu" transform="translate(986.7,414) rotate(160) scale(0.9,1.1)"/>
<use href="#fu" transform="translate(996.7,428) rotate(60) scale(0.85,1.2)"/>
<use href="#fu" transform="translate(987.3,449.7) rotate(90) scale(0.9,1.1)"/>
<use href="#fu" transform="translate(1006.7,479.7) rotate(115) scale(0.9,1.15)"/>
<use href="#fu" transform="translate(813.3,439.7) rotate(-90) scale(0.88,1.3)"/>
<use href="#fu" transform="translate(825,443) rotate(-90) scale(0.9,1)"/>
<use href="#fu" transform="translate(795,473) rotate(-118) scale(0.85,1.2)"/>
<use href="#fu" transform="translate(904.5,414.7) scale(1.02,1.34)"/>
<text x="838.3" y="515" font-size="8" textLength="34" lengthAdjust="spacingAndGlyphs">FRONT</text>
<!-- top umbrellas -->
<use href="#tu" transform="translate(804,581.7) scale(0.72,1.03)"/>
<use href="#tu" transform="translate(846.7,584) scale(0.91,1)"/>
<use href="#tu" transform="translate(896,578) scale(1.18,1.03)"/>
<use href="#tu" transform="translate(952.3,551.7) scale(1.1,1)"/>
<use href="#tu" transform="translate(987.3,571.7) rotate(-20) scale(0.62,1)"/>
<use href="#tu" transform="translate(940,596.7) scale(0.94,1.03)"/>
<use href="#tu" transform="translate(860.7,608.7) scale(1.09,1.06)"/>
<use href="#tu" transform="translate(813,608) scale(0.47,0.7)"/>
<use href="#tu" transform="translate(795,651) scale(0.65,1.06)"/>
<use href="#tu" transform="translate(813.3,636.7) scale(1,1.03)"/>
<use href="#tu" transform="translate(981.7,596.7) scale(0.5,0.5)"/>
<use href="#tu" transform="translate(1006,620) scale(0.65,1.03)"/>
<use href="#tu" transform="translate(982.7,620) scale(1.09,1.06)"/>
<path d="M813,616L830,613M973,567L958,572M960,604L970,609M795,651L806,651M982.7,620H992M813.3,636.7H826" stroke="#111" stroke-width="0.9"/>
<text x="839" y="678" font-size="8" textLength="20" lengthAdjust="spacingAndGlyphs">TOP</text>
</svg>
</body></html>
